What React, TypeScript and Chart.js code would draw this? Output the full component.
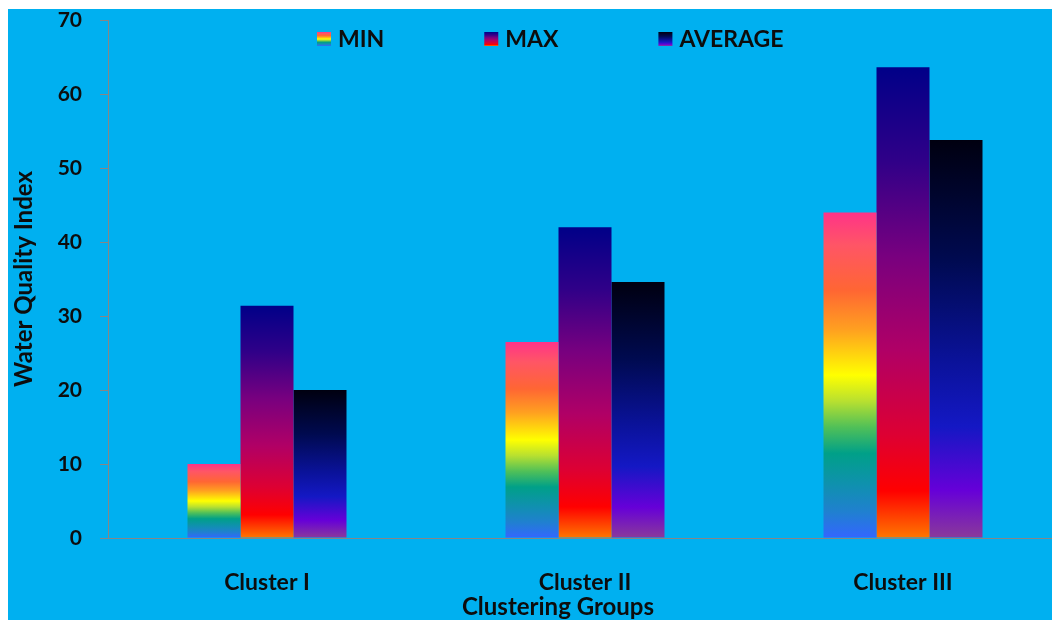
import { useEffect, useRef } from "react";
import { Chart, registerables } from "chart.js";

Chart.register(...registerables);

// Cluster groups and the Water Quality Index statistics of each one
const categories = ["Cluster I", "Cluster II", "Cluster III"];
const seriesNames = ["MIN", "MAX", "AVERAGE"];
const minValues = [10.0, 26.5, 44.0];
const maxValues = [31.4, 42.0, 63.6];
const averageValues = [20.0, 34.6, 53.8];
const yTickValues = [0, 10, 20, 30, 40, 50, 60, 70];

// Vertical gradient fills, listed top -> bottom of each bar
type Stops = [number, string][];
const minStops: Stops = [
  [0, "#FF3388"],
  [0.1, "#FF5566"],
  [0.24, "#FF6633"],
  [0.36, "#FFA020"],
  [0.5, "#FFFF00"],
  [0.58, "#B8E030"],
  [0.66, "#50C058"],
  [0.74, "#00A088"],
  [0.84, "#1090B0"],
  [0.92, "#2080D0"],
  [1, "#3366FF"],
];
const maxStops: Stops = [
  [0, "#000088"],
  [0.2, "#300088"],
  [0.4, "#78007F"],
  [0.6, "#B00066"],
  [0.78, "#DD0033"],
  [0.9, "#FF0000"],
  [1, "#FF7700"],
];
const averageStops: Stops = [
  [0, "#000010"],
  [0.3, "#000A50"],
  [0.55, "#0A1298"],
  [0.72, "#1418C4"],
  [0.88, "#6600D8"],
  [1, "#8A3A9A"],
];
const seriesStops = [minStops, maxStops, averageStops];

const FONT = "Lato, 'Open Sans', sans-serif";
const TEXT = "#0D0D0D";
const AXIS = "#868686";
const BG = "#00B0F0";

function barGradient(stops: Stops) {
  return (ctx: any) => {
    const chart = ctx.chart;
    const y = chart.scales?.y;
    if (!y || ctx.type !== "data") return stops[0][1];
    const top = y.getPixelForValue(ctx.raw as number);
    const bottom = y.getPixelForValue(0);
    if (!isFinite(top) || !isFinite(bottom) || bottom - top < 1) return stops[0][1];
    const g = chart.ctx.createLinearGradient(0, top, 0, bottom);
    stops.forEach(([o, c]) => g.addColorStop(o, c));
    return g;
  };
}

// Legend row with gradient swatches, drawn inside the plot area
const gradientLegend = {
  id: "gradientLegend",
  afterDraw(chart: any, _args: any, opts: any) {
    const { ctx } = chart;
    const box = opts.box;
    const y = opts.top;
    let x = opts.left;
    ctx.save();
    ctx.font = `bold ${opts.fontSize}px ${FONT}`;
    ctx.textBaseline = "middle";
    ctx.textAlign = "left";
    chart.data.datasets.forEach((ds: any, i: number) => {
      const g = ctx.createLinearGradient(0, y - box / 2, 0, y + box / 2);
      seriesStops[i].forEach(([o, c]) => g.addColorStop(o, c));
      ctx.fillStyle = g;
      ctx.fillRect(x, y - box / 2, box, box);
      ctx.fillStyle = TEXT;
      ctx.fillText(ds.label, x + box + opts.textGap, y + 1);
      x += box + opts.textGap + ctx.measureText(ds.label).width + opts.itemGap;
    });
    ctx.restore();
  },
};

// Category axis title
const xAxisTitle = {
  id: "xAxisTitle",
  afterDraw(chart: any, _args: any, opts: any) {
    const { ctx } = chart;
    ctx.save();
    ctx.font = `bold ${opts.fontSize}px ${FONT}`;
    ctx.fillStyle = TEXT;
    ctx.textAlign = "center";
    ctx.textBaseline = "middle";
    ctx.fillText(opts.text, opts.x, opts.y);
    ctx.restore();
  },
};

export default function App() {
  const canvasRef = useRef<HTMLCanvasElement | null>(null);

  useEffect(() => {
    if (!canvasRef.current) return;
    const values = [minValues, maxValues, averageValues];
    const chart = new Chart(canvasRef.current, {
      type: "bar",
      data: {
        labels: categories,
        datasets: seriesNames.map((name, i) => ({
          label: name,
          data: values[i],
          backgroundColor: barGradient(seriesStops[i]),
          borderWidth: 0,
          categoryPercentage: 0.5,
          barPercentage: 1.0,
        })),
      },
      options: {
        animation: false,
        responsive: false,
        maintainAspectRatio: false,
        layout: { padding: { top: 11, right: 6, left: 0, bottom: 0 } },
        plugins: {
          legend: { display: false },
          tooltip: { enabled: false },
          gradientLegend: {
            left: 309,
            top: 30,
            box: 14,
            textGap: 7,
            itemGap: 100,
            fontSize: 23,
          },
          xAxisTitle: { text: "Clustering Groups", x: 550, y: 598, fontSize: 24 },
        } as any,
        scales: {
          x: {
            grid: { display: false, drawTicks: false },
            border: { display: true, color: AXIS, width: 1 },
            ticks: {
              color: TEXT,
              padding: 31,
              font: { family: FONT, size: 23, weight: "bold" },
            },
            afterFit: (scale: any) => {
              scale.height = 83;
            },
          },
          y: {
            min: 0,
            max: 70,
            afterBuildTicks: (scale: any) => {
              scale.ticks = yTickValues.map((v) => ({ value: v }));
            },
            grid: {
              drawOnChartArea: false,
              drawTicks: true,
              tickLength: 8,
              color: AXIS,
            },
            border: { display: true, color: AXIS, width: 1 },
            ticks: {
              color: TEXT,
              padding: 18,
              font: { family: FONT, size: 21, weight: "bold", lineHeight: 1 },
            },
            title: {
              display: true,
              text: "Water Quality Index",
              color: TEXT,
              padding: { top: 2, bottom: 0 },
              font: { family: FONT, size: 24, weight: "bold" },
            },
            afterFit: (scale: any) => {
              scale.width = 100;
              scale.paddingTop = 0;
              scale.paddingBottom = 0;
            },
          },
        },
      },
      plugins: [gradientLegend, xAxisTitle],
    });
    return () => chart.destroy();
  }, []);

  return (
    <div
      style={{
        position: "relative",
        top: 1,
        width: 1052,
        height: 612,
        overflow: "hidden",
        background: BG,
      }}
    >
      <canvas ref={canvasRef} width={1060} height={612} style={{ display: "block" }} />
    </div>
  );
}
